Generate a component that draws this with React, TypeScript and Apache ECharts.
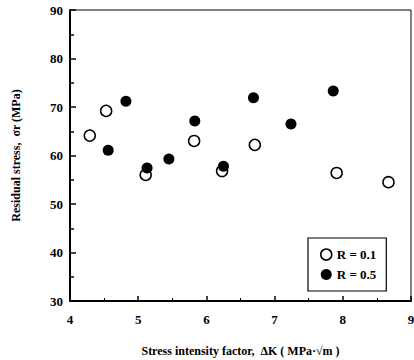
import React, { useEffect, useRef } from "react";
import * as echarts from "echarts";

const r01X = [4.29, 4.53, 5.11, 5.82, 6.23, 6.71, 7.91, 8.67];
const r01Y = [64.1, 69.2, 56.0, 63.0, 56.8, 62.2, 56.4, 54.5];
const r05X = [4.56, 4.82, 5.13, 5.45, 5.83, 6.25, 6.69, 7.24, 7.86];
const r05Y = [61.1, 71.2, 57.4, 59.3, 67.1, 57.8, 71.9, 66.5, 73.3];

const FONT = "Liberation Serif";

export default function App() {
  const ref = useRef<HTMLDivElement>(null);
  useEffect(() => {
    if (!ref.current) return;
    const chart = echarts.init(ref.current, null, { renderer: "svg" });
    const axisLine = { show: true, lineStyle: { color: "#000", width: 2 } };
    chart.setOption({
      animation: false,
      backgroundColor: "#fff",
      grid: {
        left: 70, right: 3, top: 10, bottom: 59,
        outerBoundsMode: "none",
        show: true, borderColor: "#000", borderWidth: 1,
      },
      legend: {
        orient: "vertical",
        left: 308,
        top: 238,
        width: 84,
        padding: [10, 10, 10, 12],
        itemGap: 7,
        itemWidth: 11,
        itemHeight: 11,
        borderColor: "#000",
        borderWidth: 1.2,
        backgroundColor: "#fff",
        textStyle: { fontFamily: FONT, fontWeight: "bold", fontSize: 13, color: "#000" },
        data: [
          { name: "R = 0.1", icon: "circle", itemStyle: { color: "#fff", borderColor: "#000", borderWidth: 1.5 } },
          { name: "R = 0.5", icon: "circle", itemStyle: { color: "#000" } },
        ],
      },
      xAxis: {
        type: "value",
        min: 4,
        max: 9,
        interval: 1,
        axisLine,
        axisTick: { show: true, inside: true, length: 5, lineStyle: { color: "#000", width: 1.5 } },
        minorTick: { show: true, splitNumber: 2, length: 3, lineStyle: { color: "#000" } },
        splitLine: { show: false },
        axisLabel: { margin: 12, color: "#000", fontFamily: FONT, fontWeight: "bold", fontSize: 13 },
        name: "Stress intensity factor,  ΔK ( MPa·√m )",
        nameLocation: "middle",
        nameGap: 44,
        nameTextStyle: { color: "#000", fontFamily: FONT, fontWeight: "bold", fontSize: 12 },
      },
      yAxis: {
        type: "value",
        min: 30,
        max: 90,
        interval: 10,
        axisLine,
        axisTick: { show: true, inside: true, length: 6, lineStyle: { color: "#000", width: 1.5 } },
        minorTick: { show: true, splitNumber: 2, length: 4, lineStyle: { color: "#000", width: 1.5 } },
        splitLine: { show: false },
        axisLabel: { margin: 7, color: "#000", fontFamily: FONT, fontWeight: "bold", fontSize: 13 },
        name: "Residual stress,  σr (MPa)",
        nameLocation: "middle",
        nameGap: 48,
        nameTextStyle: { color: "#000", fontFamily: FONT, fontWeight: "bold", fontSize: 12 },
      },
      series: [
        {
          name: "R = 0.1",
          type: "scatter",
          symbol: "circle",
          symbolSize: 11,
          itemStyle: { color: "#fff", borderColor: "#000", borderWidth: 1.5, opacity: 1 },
          data: r01X.map((x, i) => [x, r01Y[i]]),
        },
        {
          name: "R = 0.5",
          type: "scatter",
          symbol: "circle",
          symbolSize: 11,
          itemStyle: { color: "#000", opacity: 1 },
          data: r05X.map((x, i) => [x, r05Y[i]]),
        },
      ],
    });
    return () => chart.dispose();
  }, []);
  return <div ref={ref} style={{ width: 414, height: 360, position: "absolute", left: 0, top: 0 }} />;
}
